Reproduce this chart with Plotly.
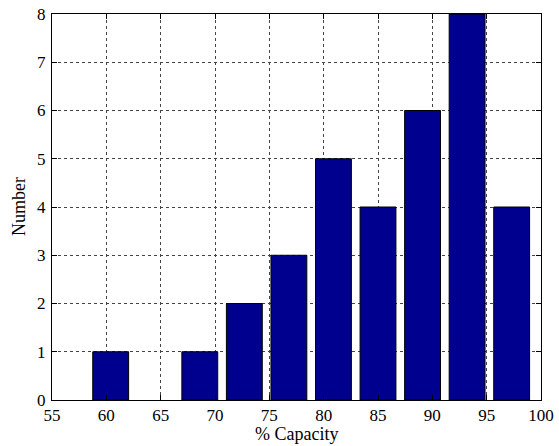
import plotly.graph_objects as go

bin_centers = [60.4, 64.5, 68.6, 72.7, 76.8, 80.9, 85.0, 89.1, 93.2, 97.3]
counts = [1, 0, 1, 2, 3, 5, 4, 6, 8, 4]
x_ticks = [55, 60, 65, 70, 75, 80, 85, 90, 95, 100]
y_ticks = [0, 1, 2, 3, 4, 5, 6, 7, 8]

FONT = "Times New Roman, Liberation Serif, DejaVu Serif, serif"

fig = go.Figure()
fig.add_trace(go.Bar(
    x=bin_centers, y=[c if c else None for c in counts], width=3.3,
    marker=dict(color="#00008F", line=dict(color="black", width=1)),
))

axis_common = dict(
    showline=True, linecolor="black", linewidth=1, mirror="allticks",
    ticks="inside", ticklen=5, tickcolor="black",
    showgrid=True, gridcolor="#444444", griddash="dot", gridwidth=1,
    zeroline=False, automargin=False,
    tickfont=dict(family=FONT, size=17, color="black"),
)

fig.update_layout(
    width=559, height=446,
    margin=dict(l=52, r=18, t=14, b=46),
    plot_bgcolor="white", paper_bgcolor="white",
    showlegend=False,
    font=dict(family=FONT, size=17, color="black"),
    xaxis=dict(range=[55, 100], tickvals=x_ticks, ticklabelstandoff=0, **axis_common),
    yaxis=dict(range=[0, 8], tickvals=y_ticks, ticklabelstandoff=2, **axis_common),
    annotations=[
        dict(text="% Capacity", xref="paper", yref="paper", x=0.5, y=0,
             yshift=-46, yanchor="bottom", showarrow=False,
             font=dict(family=FONT, size=18, color="black")),
        dict(text="Number", xref="paper", yref="paper", x=0, y=0.5,
             xshift=-33, xanchor="center", textangle=-90, showarrow=False,
             font=dict(family=FONT, size=18, color="black")),
    ],
)

fig.write_html("out.html", config={"displayModeBar": False},
               post_script="document.body.style.margin='0';")
